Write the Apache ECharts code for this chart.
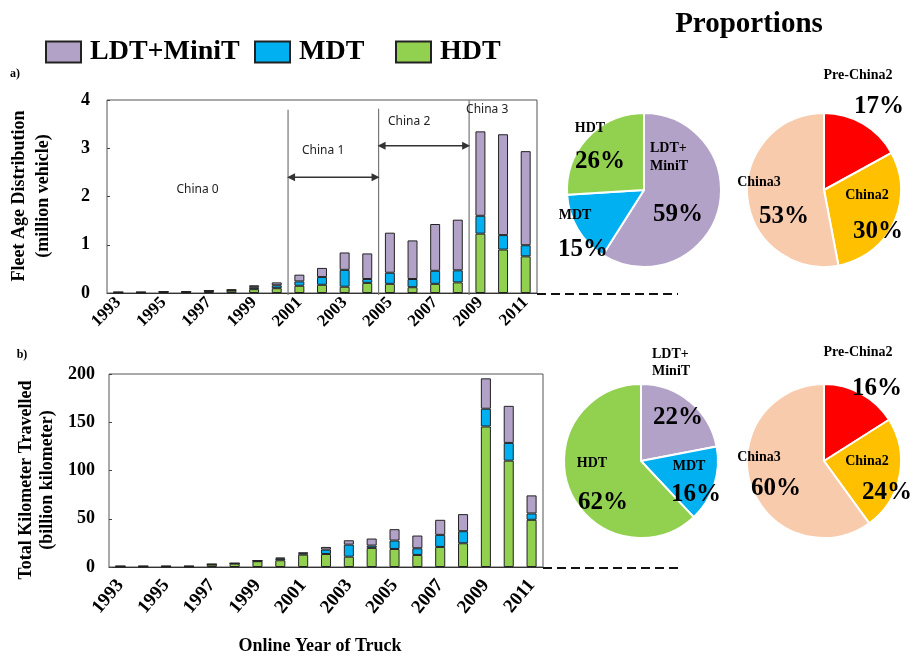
<!DOCTYPE html>
<html><head><meta charset="utf-8">
<script src="https://cdn.jsdelivr.net/npm/echarts@6/dist/echarts.min.js"></script>
<style>html,body{margin:0;padding:0;background:#fff}#c{width:915px;height:657px}</style>
</head><body><div id="c"></div>
<script>
// ---------- data ----------
const years = ['1993','1994','1995','1996','1997','1998','1999','2000','2001','2002','2003','2004','2005','2006','2007','2008','2009','2010','2011'];
// a) Fleet age distribution (million vehicle)
const fleetHDT = [0.01,0.01,0.02,0.02,0.04,0.05,0.08,0.10,0.15,0.17,0.13,0.21,0.19,0.12,0.19,0.22,1.23,0.90,0.76];
const fleetMDT = [0.005,0.005,0.005,0.005,0.005,0.01,0.04,0.06,0.09,0.16,0.35,0.08,0.23,0.17,0.27,0.25,0.37,0.30,0.23];
const fleetLDT = [0.005,0.005,0.005,0.005,0.005,0.01,0.04,0.06,0.14,0.19,0.36,0.53,0.83,0.80,0.97,1.05,1.75,2.09,1.95];
// b) Total kilometer travelled (billion kilometer)
const vktHDT = [0.5,0.5,0.5,0.5,2.5,3.5,6,7,12.8,13.5,10.7,19.8,18.7,12.5,20.8,24.6,145.6,110.2,48.9];
const vktMDT = [0.2,0.2,0.2,0.2,0.3,0.3,0.4,1.7,1.4,4.5,12.5,2.4,8.7,6.9,12.5,12.5,18.4,18.4,6.6];
const vktLDT = [0.3,0.3,0.3,0.3,0.2,0.2,0.2,1.0,0.7,2.8,4.5,7.3,11.8,13.2,15.6,17.7,31.5,38.4,18.7];
// tick labels
const yTicksTop = [0,1,2,3,4];
const yTicksBottom = [0,50,100,150,200];
// proportions
const typeNames = ['LDT+MiniT','MDT','HDT'];
const fleetTypeShare = [59,15,26];
const vktTypeShare = [22,16,62];
const stdNames = ['Pre-China2','China2','China3'];
const fleetStdShare = [17,30,53];
const vktStdShare = [16,24,60];
// emission standard eras (category boundaries)
const eraNames = ['China 0','China 1','China 2','China 3'];
const eraBounds = [7.5, 11.5, 15.5];

// ---------- style ----------
const SERIF = 'Liberation Serif, Times New Roman, serif';
const C_LDT = '#B3A2C7', C_MDT = '#00B0F0', C_HDT = '#92D050';
const C_PRE = '#FF0000', C_C2 = '#FFC000', C_C3 = '#F8CBAD';

const chart = echarts.init(document.getElementById('c'));

function barSeries(name, data, color, gi){
  return {type:'bar', name, data, stack:'s'+gi, xAxisIndex:gi, yAxisIndex:gi,
    barWidth:'44%', itemStyle:{color, borderColor:'#222', borderWidth:1}, emphasis:{disabled:true}};
}
function xAx(gi, rot, margin, fs){
  return {type:'category', gridIndex:gi, data:years, boundaryGap:true,
    axisLine:{lineStyle:{color:'#333', width:1}}, axisTick:{show:false},
    axisLabel:{interval:1, rotate:rot, margin, color:'#000', fontFamily:SERIF, fontWeight:'bold', fontSize:fs}};
}
function yAx(gi, ticks, margin){
  return {type:'value', gridIndex:gi, min:ticks[0], max:ticks[ticks.length-1], interval:ticks[1]-ticks[0],
    splitLine:{show:false}, axisLine:{show:false}, axisTick:{show:true, inside:true, length:3, lineStyle:{color:'#444'}},
    axisLabel:{margin, color:'#000', fontFamily:SERIF, fontWeight:'bold', fontSize:18}};
}
function pieSeries(names, shares, colors, cx, cy){
  return {type:'pie', center:[cx, cy], radius:77, startAngle:90, clockwise:true, silent:true,
    label:{show:false}, labelLine:{show:false},
    itemStyle:{borderColor:'#fff', borderWidth:2},
    data: names.map((n,i)=>({name:n, value:shares[i], itemStyle:{color:colors[i]}}))};
}
function legendFor(name, left){
  return {left, top:33, data:[name], icon:'rect', itemWidth:35, itemHeight:21, selectedMode:false,
    textStyle:{color:'#000', fontFamily:SERIF, fontWeight:'bold', fontSize:28, padding:[0,0,0,4]}};
}

const option = {
  animation:false,
  backgroundColor:'#fff',
  legend:[legendFor('LDT+MiniT',40), legendFor('MDT',249), legendFor('HDT',390)],
  grid:[
    {left:107, top:100, width:430, height:193, show:true, borderColor:'#555', borderWidth:1},
    {left:109, top:374, width:434, height:193, show:true, borderColor:'#555', borderWidth:1}
  ],
  xAxis:[xAx(0, 45, 7, 17), xAx(1, 50, 15, 19)],
  yAxis:[yAx(0, yTicksTop, 17), yAx(1, yTicksBottom, 14)],
  series:[
    barSeries('HDT', fleetHDT, C_HDT, 0),
    barSeries('MDT', fleetMDT, C_MDT, 0),
    barSeries('LDT+MiniT', fleetLDT, C_LDT, 0),
    barSeries('HDT', vktHDT, C_HDT, 1),
    barSeries('MDT', vktMDT, C_MDT, 1),
    barSeries('LDT+MiniT', vktLDT, C_LDT, 1),
    pieSeries(typeNames, fleetTypeShare, [C_LDT,C_MDT,C_HDT], 644, 190),
    pieSeries(stdNames, fleetStdShare, [C_PRE,C_C2,C_C3], 824, 190),
    pieSeries(typeNames, vktTypeShare, [C_LDT,C_MDT,C_HDT], 641, 461),
    pieSeries(stdNames, vktStdShare, [C_PRE,C_C2,C_C3], 824, 461)
  ]
};
chart.setOption(option);

// ---------- annotations, positioned through the axes ----------
function px(gi, cat, val){
  const a = chart.convertToPixel({gridIndex:gi}, [0, val]);
  const b = chart.convertToPixel({gridIndex:gi}, [1, val]);
  return [a[0] + (b[0]-a[0])*cat, a[1]];
}
const g = [];
function txt(x, y, s, font, align, lh, fill){
  g.push({type:'text', x, y, z:100, silent:true,
    style:{text:s, font, fill:fill||'#000', align:align||'center', verticalAlign:'middle', lineHeight:lh||undefined}});
}
function line(x1,y1,x2,y2,stroke,w,dash){
  g.push({type:'line', z:100, silent:true, shape:{x1,y1,x2,y2}, style:{stroke, lineWidth:w||1, lineDash:dash||null}});
}
function arrowHead(x, y, dir){ // dir: -1 points left, +1 points right
  g.push({type:'polygon', z:100, silent:true, shape:{points:[[x,y],[x-dir*8,y-4],[x-dir*8,y+4]]}, style:{fill:'#333'}});
}
// era separator lines
const eraTop = [3.8, 3.82, 4];
eraBounds.forEach((c,i)=>{
  const p0 = px(0, c, 0), p1 = px(0, c, eraTop[i]);
  line(p0[0], p0[1]+2, p1[0], p1[1], '#777', 1.2);
});
// arrows
const arrows = [[eraBounds[0], eraBounds[1], 2.4], [eraBounds[1], eraBounds[2], 3.05]];
arrows.forEach(a=>{
  const p0 = px(0, a[0], a[2]), p1 = px(0, a[1], a[2]);
  line(p0[0]+2, p0[1], p1[0]-2, p1[1], '#333', 1.5);
  arrowHead(p0[0]-1, p0[1], -1);
  arrowHead(p1[0]+1, p1[1], 1);
});
// era labels
const eraPos = [[3.5, 2.14], [9.05, 2.95], [12.85, 3.56], [16.3, 3.81]];
eraNames.forEach((n,i)=>{
  const p = px(0, eraPos[i][0], eraPos[i][1]);
  txt(p[0], p[1], n, '12px Noto Sans, sans-serif', 'center', null, '#222');
});
// dashed extension lines
[0,1].forEach(gi=>{
  const pEnd = px(gi, 18.5, 0);
  line(pEnd[0], pEnd[1]+1, 678, pEnd[1]+1, '#111', 1.8, [9,5]);
});

// titles & axis names
const B = (s)=> 'bold ' + s + 'px ' + SERIF;
txt(749, 25, 'Proportions', B(29));
txt(15, 74, 'a)', B(12));
txt(22, 355, 'b)', B(12));
txt(320, 646, 'Online Year of Truck', B(18));
g.push({type:'text', x:31, y:196, rotation:Math.PI/2, z:100, silent:true,
  style:{text:'Fleet Age Distribution\n(million vehicle)', font:B(18), lineHeight:24, fill:'#000', align:'center', verticalAlign:'middle'}});
g.push({type:'text', x:37, y:480, rotation:Math.PI/2, z:100, silent:true,
  style:{text:'Total Kilometer Travelled\n(billion kilometer)', font:B(18), lineHeight:21, fill:'#000', align:'center', verticalAlign:'middle'}});

// pie labels
const NF = B(14), PF = B(25);
// a) type
txt(590, 128, typeNames[2], NF);
txt(600, 162, fleetTypeShare[2] + '%', PF);
txt(650, 157, 'LDT+\nMiniT', NF, 'left', 18);
txt(678, 215, fleetTypeShare[0] + '%', PF);
txt(575, 215, typeNames[1], NF);
txt(583, 250, fleetTypeShare[1] + '%', PF);
// a) standard
txt(858, 75, stdNames[0], NF);
txt(879, 107, fleetStdShare[0] + '%', PF);
txt(759, 182, stdNames[2], NF);
txt(784, 217, fleetStdShare[2] + '%', PF);
txt(867, 195, stdNames[1], NF);
txt(878, 232, fleetStdShare[1] + '%', PF);
// b) type
txt(652, 363, 'LDT+\nMiniT', NF, 'left', 17);
txt(678, 418, vktTypeShare[0] + '%', PF);
txt(592, 463, typeNames[2], NF);
txt(603, 503, vktTypeShare[2] + '%', PF);
txt(689, 466, typeNames[1], NF);
txt(696, 495, vktTypeShare[1] + '%', PF);
// b) standard
txt(858, 352, stdNames[0], NF);
txt(877, 389, vktStdShare[0] + '%', PF);
txt(759, 457, stdNames[2], NF);
txt(776, 489, vktStdShare[2] + '%', PF);
txt(867, 461, stdNames[1], NF);
txt(887, 493, vktStdShare[1] + '%', PF);

chart.setOption({graphic:{elements:g}});
</script>
</body></html>
